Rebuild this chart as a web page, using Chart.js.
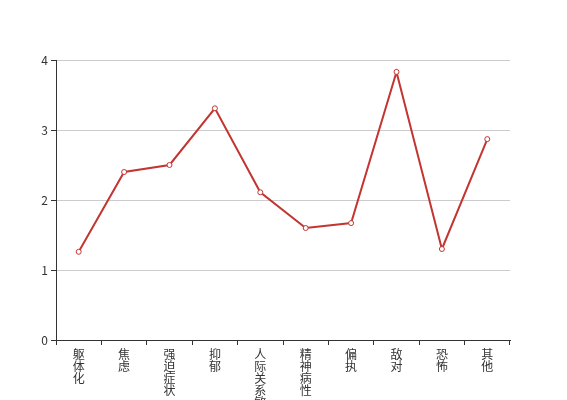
<!DOCTYPE html>
<html>
<head>
<meta charset="utf-8">
<script src="https://cdn.jsdelivr.net/npm/chart.js@4/dist/chart.umd.min.js"></script>
<style>
  body { margin: 0; background: #fff; }
  #myChart { display: block; }
</style>
</head>
<body>
<canvas id="myChart" width="567" height="400"></canvas>
<script>
const labels = ['躯体化', '焦虑', '强迫症状', '抑郁', '人际关系敏感', '精神病性', '偏执', '敌对', '恐怖', '其他'];
const values = [1.26, 2.4, 2.5, 3.31, 2.11, 1.6, 1.67, 3.83, 1.3, 2.87];
const yTicks = [0, 1, 2, 3, 4];

const font = { family: "'Noto Sans CJK SC', 'DejaVu Sans', sans-serif", size: 12 };

const data = {
  labels: labels.map(s => s.split('')),
  datasets: [{
    label: '得分',
    data: values,
    borderColor: '#c23531',
    backgroundColor: '#fff',
    borderWidth: 2,
    pointRadius: 2.5,
    pointBorderWidth: 1,
    pointBackgroundColor: '#fff',
    pointBorderColor: '#c23531',
    tension: 0
  }]
};

const config = {
  type: 'line',
  data: data,
  options: {
    responsive: false,
    animation: false,
    devicePixelRatio: 1,
    layout: { padding: { top: 60, right: 57, left: 0, bottom: 0 } },
    plugins: { legend: { display: false }, tooltip: { enabled: false } },
    scales: {
      x: {
        offset: true,
        border: { color: '#333', width: 1 },
        grid: { offset: true, drawOnChartArea: false, drawTicks: true, tickLength: 5, tickColor: '#333' },
        ticks: { autoSkip: false, maxRotation: 0, minRotation: 0, color: '#333', font: { ...font, lineHeight: 1 }, padding: 3 },
        afterFit: s => { s.height = 60; }
      },
      y: {
        min: 0,
        max: 4,
        afterBuildTicks: s => { s.ticks = yTicks.map(v => ({ value: v })); },
        border: { color: '#333', width: 1 },
        grid: { color: '#ccc', tickLength: 5, tickColor: '#333' },
        ticks: { color: '#333', font: font, padding: 3 },
        afterFit: s => { s.width = 56; }
      }
    }
  }
};

const myChart = new Chart(document.getElementById('myChart'), config);
</script>
</body>
</html>
